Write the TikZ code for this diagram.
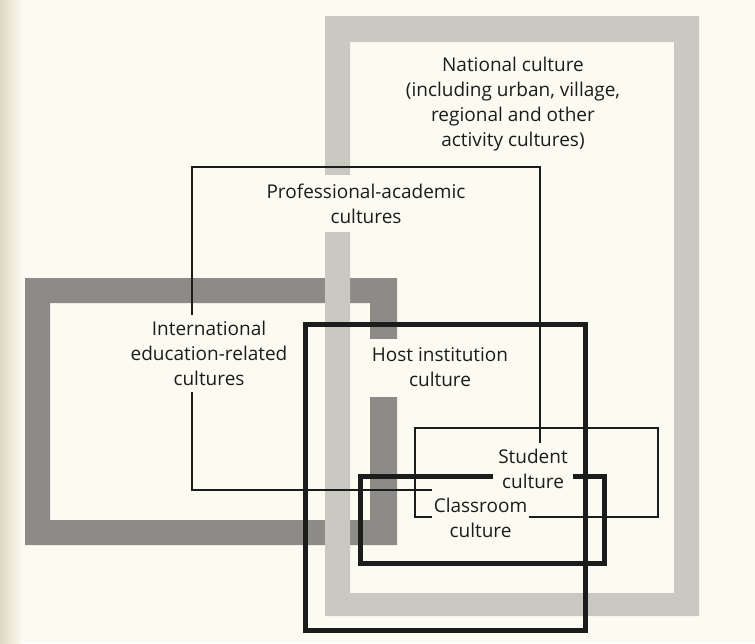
\documentclass[tikz,border=0pt]{standalone}
\usepackage{fontspec}
\setmainfont{Open Sans}
\definecolor{paper}{HTML}{FCFBF1}
\definecolor{gutter}{HTML}{DDD8C2}
\definecolor{lightband}{HTML}{C9C9C1}
\definecolor{darkband}{HTML}{8C8B87}
\definecolor{ink}{HTML}{1C1C1C}
\begin{document}
\begin{tikzpicture}[x=1pt,y=-1pt,
  thinbox/.style={draw=ink,line width=1.8pt},
  thickbox/.style={draw=ink,line width=5pt},
  lbl/.style={fill=paper,inner sep=0pt,align=center,text=ink,font=\fontsize{19}{25}\selectfont},
  txt/.style={inner sep=0pt,align=center,text=ink,font=\fontsize{19}{25}\selectfont}]
% page
\fill[paper] (0,0) rectangle (755,643);
\shade[left color=gutter,right color=paper] (0,0) rectangle (22,643);
\useasboundingbox (0,0) rectangle (755,643);
% international (dark) frame
\fill[darkband,even odd rule] (25,278) rectangle (397,545) (50,303) rectangle (370,520);
% national (light) frame
\fill[lightband,even odd rule] (325,16) rectangle (699,616) (350,42) rectangle (674,593);
% professional-academic box
\draw[thinbox] (192,167) rectangle (540,490);
% host institution box
\draw[thickbox] (305,324) rectangle (585,630);
% student box
\draw[thinbox] (415,428) rectangle (658,517);
% classroom box
\draw[thickbox] (360,476) rectangle (604,563);
% labels
\node[txt] (national) at (513,104.5) {National culture\\(including urban, village,\\regional and other\\activity cultures)};
\node[lbl,minimum width=212,minimum height=57] (prof) at (366,203.5) {Professional-academic\\cultures};
\node[lbl,minimum width=168,minimum height=77] (intl) at (209,353) {International\\education-related\\cultures};
\node[lbl,minimum width=160,minimum height=58] (host) at (440,367.5) {Host institution\\culture};
\node[lbl,minimum width=97,minimum height=62] (classroom) at (480.5,518) {Classroom\\culture};
\node[lbl,minimum width=80,minimum height=52] (student) at (533,468.5) {Student\\culture};
\end{tikzpicture}
\end{document}
